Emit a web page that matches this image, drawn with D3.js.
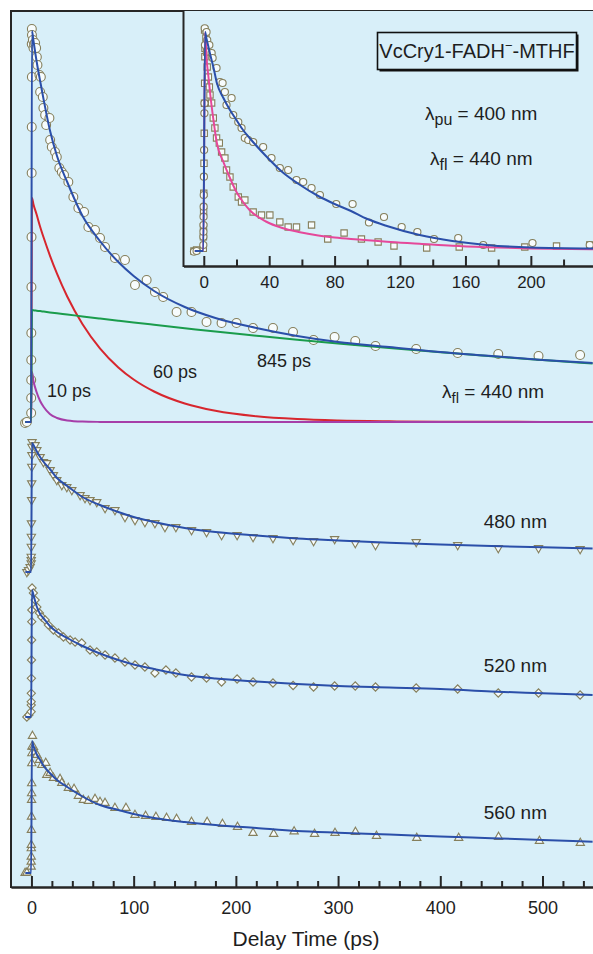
<!DOCTYPE html>
<html lang="en">
<head>
<meta charset="UTF-8">
<script src="https://cdn.jsdelivr.net/npm/d3@7"></script>
<style>
  body { margin: 0; background: #fff; }
  svg text { font-family: "Liberation Sans", Arial, sans-serif; fill: #1e1e1e; }
</style>
</head>
<body>
<svg></svg>
<script>
// ---------- data (t in ps, signal in a.u. above each trace baseline) ----------
var mainTicks = [0, 100, 200, 300, 400, 500];
var mainMinor = [20, 40, 60, 80, 120, 140, 160, 180, 220, 240, 260, 280, 320, 340, 360, 380, 420, 440, 460, 480, 520, 540];
var insetTicks = [0, 40, 80, 120, 160, 200];
var insetMinor = [20, 60, 100, 140, 180, 220];

var traceNames = ["440 nm", "480 nm", "520 nm", "560 nm"];
var traceOffsets = [465, 315, 170, 14];

var pts440 = [[-6.2,-1],[-4.5,0],[-0.28,9],[-0.25,24],[-0.21,42],[-0.17,62],[-0.12,89],[-0.02,135],[0.08,185],[0.21,249],[0.3,295],[0.41,345],
  [0.4,393],[0.5,387],[0.3,378],[1.4,382],[2.0,374],[2.6,378],[3.6,379],[4.6,374],[5.3,365],[5.9,357],[7.8,347],[8.5,330],[9.2,345],
  [11.1,325],[11.7,314],[13.4,307],[14.4,297],[17.6,304],[18.3,282],[19.9,275],[23.1,270],[24.8,265],[27.3,254],[29.7,250],[31.9,247],
  [36.1,240],[41,225],[45.9,214],[51.5,210],[55.7,195],[62.2,192],[67.1,184],[72,175],[81.7,164],[91.5,162],[101.3,137],[112.7,142],
  [120.8,130],[128.9,125],[142,110],[156.6,110],[171.3,100],[186,99],[200.6,99],[216.8,94],[236.3,94],[255.9,90],[276,82],[296.6,85],
  [316.8,81],[336.6,76],[376.4,73],[417,69],[456.7,68],[496.1,66],[536.8,67]];
var pts480 = [[-4.5,0],[-2.9,2],[-1.3,5],[-0.25,8.7],[-0.23,12],[-0.21,15.3],[-0.14,25.3],[-0.08,35.3],[0,48.7],[0.15,72],[0.25,88.7],
  [0.35,105.3],[0.43,117],[0.48,125.3],[0.6,130],[3.6,127],[5.3,122],[8.5,115],[11.7,110],[15,109],[18.3,102],[21.5,97],[24.8,92],
  [29.7,87],[34.6,85],[39.5,82],[47.6,77],[52.4,74],[57.3,72],[63.9,70],[72,64],[81.7,62],[91.5,55],[101.3,52],[111,50],[120.8,49],
  [130.6,45],[141.3,45],[156.6,42],[171.3,40],[186,37],[201.2,37],[216.8,35],[236.3,34],[256,32],[276,31],[296.6,33],[316.8,29],
  [336.6,27],[376.4,30],[417,27],[456.7,24],[496.1,24],[536.8,23]];
var pts520 = [[-4.5,0],[-2.5,2],[-0.27,5.3],[-0.22,12],[-0.2,15.3],[-0.15,23.7],[-0.06,38.7],[0.06,57],[0.19,77],[0.3,95.3],[0.37,107],
  [0.6,129],[1.9,124],[3.6,117],[5.3,110],[7.8,104],[10.1,100],[13.4,97],[16.6,92],[21.5,87],[26.4,84],[31.3,80],[37.8,77],[42.7,75],
  [49.2,74],[57.3,67],[63.9,65],[72,62],[81.7,59],[91.5,55],[101.3,52],[111,50],[120.8,44],[131.6,47],[141.3,44],[156.6,40],[171.3,39],
  [186,35],[201.2,38],[216.8,35],[236.3,34],[256,31.5],[276,30],[296.6,31],[316.8,31],[336.6,30],[376.4,29],[417,28],[456.7,24],
  [496.1,24],[536.8,22]];
var pts560 = [[-6.2,0],[-4.5,0.3],[-0.26,6.3],[-0.23,11.3],[-0.2,16.3],[-0.15,24.7],[-0.13,28],[-0.04,43],[0.04,56.3],[0.14,73],
  [0.18,79.7],[0.24,89.7],[0.36,109.7],[0.43,119.7],[0.47,126.3],[1.0,137],[2.0,126],[3.6,121],[5.3,118],[7.8,113],[10.1,108],[14,110],
  [15,98],[18.3,100],[21.5,95],[28,94],[29.7,90],[36.1,85],[41.7,84],[45.9,77],[50.8,73],[55.7,72],[62.2,74],[67.1,71],[72,70],
  [81.7,65],[92.5,65],[101.3,58],[111.7,57],[121.8,56],[132.2,55],[142,54],[156.6,51],[171.9,51],[186.9,49],[201.6,46],[216.8,40],
  [237,39],[257,41.5],[277,39],[297,40],[317,41],[337.6,37],[377,35],[418,35],[457,36],[497,32],[537,30]];

var fitT = [-6, -0.3, 0.5, 2, 5, 8.5, 12, 18, 25, 35, 50, 67, 85, 100, 120, 150, 180, 220, 260, 300, 350, 400, 450, 500, 549];
var fit440 = [0, 0, 391, 381, 361, 341, 322, 292, 266, 240, 206, 181, 160, 146, 131, 115, 104, 94, 86, 80, 75, 70, 66, 62, 59];
var fit480 = [0, 0, 129, 127, 121, 115, 110, 103, 94, 86, 75, 67, 60, 55, 50, 44, 40, 36.5, 33.5, 31.5, 29.3, 27.5, 26, 24.8, 23.5];
var fit520 = [0, 0, 127, 122, 111, 103, 98.5, 91, 85, 79, 71, 63.5, 57, 52.5, 48, 42, 38.5, 35.5, 33, 31, 29.5, 28, 25.5, 23.7, 22];
var fit560 = [0, 0, 132, 127, 119, 113, 107, 100, 93, 86, 76.5, 68, 63, 59, 55, 51, 48, 45, 42, 40.3, 38.5, 36.5, 34.8, 33, 31.3];
// decay components of the 440 nm trace
var comp10 = [0, 0, 50, 41, 30, 21, 15, 8, 4, 1.5, 0.4, 0.1, 0, 0, 0, 0, 0, 0, 0, 0, 0, 0, 0, 0, 0];
var comp60 = [0, 0, 224, 217.6, 207.7, 195.3, 184.2, 166.7, 148.3, 125.5, 97.8, 73.7, 54.6, 42.5, 30.5, 18.5, 11.2, 5.7, 2.9, 1.5, 0.7, 0.3, 0.2, 0.1, 0.05];
var comp845 = [0, 0, 112, 111.7, 111.3, 110.9, 110.4, 109.6, 108.7, 107.5, 105.6, 103.5, 101.3, 99.5, 97.2, 93.8, 90.4, 86.3, 82.3, 78.5, 74.0, 69.8, 65.7, 62.0, 58.5];

// inset
var insetCircles = [[-6,-0.7],[-4.4,0],[-0.27,6],[-0.23,14.3],[-0.2,19.3],[-0.17,26],[-0.13,34.3],[-0.08,44.3],[-0.02,56],[0.07,74.3],
  [0.21,101],[0.39,137.7],[0.44,147.7],[0.73,206],[0.6,222.7],[1.7,219],[2.1,211],[3.4,206],[4.8,198],[5.4,193],[7.8,183],[9.9,169],
  [11.5,168],[12.9,159],[13.9,146],[17,153],[18,136],[21.1,129],[23.1,123],[25.1,113],[27.2,111],[30.2,109],[36.3,104],[41.4,93],
  [46.5,83],[51.6,81],[56.7,71],[60.8,69],[65.9,63],[71,56],[81,47],[91,47],[101,28.5],[110.2,34],[121,24],[130.6,19],[140.8,12],
  [155.6,13],[170.9,6],[201,8],[236,6]];
var insetSquares = [[-6,0],[-4.4,1],[-0.29,2.7],[-0.23,14.3],[-0.18,24.3],[-0.1,39.3],[-0.01,57.7],[0.14,87.7],[0.29,117.7],[0.44,147.7],
  [0.54,167.7],[0.68,194.3],[0.72,202.7],[0.5,221],[1.3,213],[1.7,199],[2.1,184],[2.8,174],[3.4,164],[3.8,156],[4.8,148],[5.8,133],
  [6.8,123],[7.8,113],[9.5,108],[10.9,99],[12.9,93],[13.9,81],[16,74],[18,64],[21.1,54],[23.1,49],[25.1,51],[30.2,39],[35.3,36],
  [40.4,36],[46.5,29],[51.6,24],[56.7,24],[65.9,26],[75.8,12],[85.8,18],[96.4,12],[106.6,9],[116.3,5],[136.3,3],[156.2,4],[176,3],
  [196.3,4],[215.7,5],[236,6]];
var insetFitT = [-5.5, -0.3, 0.8, 1.7, 3, 4, 6, 8, 12, 16, 20, 24, 28, 38, 48, 58, 70, 80, 90, 100, 112, 132, 152, 173, 200, 238];
var insetFitBlue = [0, 0, 219, 212, 203, 196, 183, 168, 153, 141, 131, 121, 113, 95, 79, 67, 55, 47, 40, 32, 25, 16, 10, 6, 3.5, 2.5];
var insetFitPink = [0, 0, 219, 193, 172, 156, 130, 108, 89, 73, 59, 49, 41, 29.5, 23, 19, 15.5, 13.5, 12, 10.8, 9.3, 7.3, 5.2, 3.8, 2.6, 1.7];

// ---------- drawing ----------
var bg = "#d8eff9", blue = "#2b4fa9", ink = "#262626";
var mStroke = "#857f5c", mFill = "#f7fcfd";

var svg = d3.select("svg").attr("width", 593).attr("height", 954);

var x = d3.scaleLinear().domain([-20, 549.4]).range([11, 593]);
var y = d3.scaleLinear().domain([0, 876]).range([887, 11]);
var xi = d3.scaleLinear().domain([-12.4, 238]).range([183.5, 593]);
var yi = d3.scaleLinear().domain([-15, 240]).range([266, 11]);

var defs = svg.append("defs");
defs.append("clipPath").attr("id", "mainClip").append("rect")
  .attr("x", 11).attr("y", 11).attr("width", 582).attr("height", 876);
defs.append("clipPath").attr("id", "insetClip").append("rect")
  .attr("x", 183.5).attr("y", 11).attr("width", 409.5).attr("height", 255);

svg.append("rect").attr("x", 11).attr("y", 11).attr("width", 582).attr("height", 876).attr("fill", bg);

var main = svg.append("g").attr("clip-path", "url(#mainClip)");

function markers(g, pts, xs, ys, off, type, size, rot) {
  var sym = d3.symbol().type(type).size(size);
  g.append("g").selectAll("path").data(pts).enter().append("path")
    .attr("d", sym)
    .attr("transform", function(d) { return "translate(" + xs(d[0]) + "," + ys(d[1] + off) + ") rotate(" + rot + ")"; })
    .attr("fill", mFill).attr("stroke", mStroke).attr("stroke-width", 1.1);
}
function curve(g, ts, vals, xs, ys, off, color) {
  var line = d3.line().x(function(d) { return xs(d[0]); }).y(function(d) { return ys(d[1] + off); })
    .curve(d3.curveMonotoneX);
  g.append("path").datum(ts.map(function(t, i) { return [t, vals[i]]; }))
    .attr("d", line).attr("fill", "none").attr("stroke", color).attr("stroke-width", 2);
}

markers(main, pts440, x, y, traceOffsets[0], d3.symbolCircle, 62, 0);
markers(main, pts480, x, y, traceOffsets[1], d3.symbolTriangle, 30, 180);
markers(main, pts520, x, y, traceOffsets[2], d3.symbolSquare, 34, 45);
markers(main, pts560, x, y, traceOffsets[3], d3.symbolTriangle, 30, 0);

curve(main, fitT, comp60, x, y, traceOffsets[0], "#d7262e");
curve(main, fitT, comp10, x, y, traceOffsets[0], "#a63ea9");
curve(main, fitT, comp845, x, y, traceOffsets[0], "#1a9c4c");
curve(main, fitT, fit440, x, y, traceOffsets[0], blue);
curve(main, fitT, fit480, x, y, traceOffsets[1], blue);
curve(main, fitT, fit520, x, y, traceOffsets[2], blue);
curve(main, fitT, fit560, x, y, traceOffsets[3], blue);

// labels
function label(g, px, py, parts, size, anchor) {
  var t = g.append("text").attr("x", px).attr("y", py).attr("font-size", size)
    .attr("text-anchor", anchor || "start");
  parts.forEach(function(p) {
    var s = t.append("tspan").text(p[0]);
    if (p[1]) s.attr("dy", p[1]);
    if (p[2]) s.attr("font-size", p[2]);
  });
}
label(svg, 47, 397, [["10 ps"]], 18);
label(svg, 153, 378, [["60 ps"]], 18);
label(svg, 257, 367, [["845 ps"]], 18);
label(svg, 442, 398, [["λ"], ["fl", 5, 15], [" = 440 nm", -5]], 19);
label(svg, 547, 528, [[traceNames[1]]], 19, "end");
label(svg, 547, 672, [[traceNames[2]]], 19, "end");
label(svg, 547, 819, [[traceNames[3]]], 19, "end");

// main axis
var axMajor = svg.append("g").attr("transform", "translate(0,887)")
  .call(d3.axisBottom(x).tickValues(mainTicks).tickSizeInner(-11).tickSizeOuter(0).tickPadding(14));
var axMinor = svg.append("g").attr("transform", "translate(0,887)")
  .call(d3.axisBottom(x).tickValues(mainMinor).tickSizeInner(-6).tickSizeOuter(0).tickFormat(""));
[axMajor, axMinor].forEach(function(a) {
  a.selectAll("path,line").attr("stroke", ink).attr("stroke-width", 2);
  a.selectAll("text").attr("font-size", 18).attr("font-family", "Liberation Sans, Arial, sans-serif").attr("fill", "#1e1e1e");
});
svg.append("line").attr("x1", 11).attr("x2", 11).attr("y1", 10).attr("y2", 888).attr("stroke", ink).attr("stroke-width", 2);
svg.append("line").attr("x1", 10).attr("x2", 593).attr("y1", 11).attr("y2", 11).attr("stroke", ink).attr("stroke-width", 2);
svg.append("text").attr("x", 306).attr("y", 946).attr("text-anchor", "middle").attr("font-size", 21).text("Delay Time (ps)");

// ---------- inset ----------
svg.append("rect").attr("x", 183.5).attr("y", 11).attr("width", 409.5).attr("height", 255).attr("fill", bg);
var ins = svg.append("g").attr("clip-path", "url(#insetClip)");
markers(ins, insetSquares, xi, yi, 0, d3.symbolSquare, 40, 0);
markers(ins, insetCircles, xi, yi, 0, d3.symbolCircle, 40, 0);
curve(ins, insetFitT, insetFitPink, xi, yi, 0, "#e5489a");
curve(ins, insetFitT, insetFitBlue, xi, yi, 0, blue);

var iaMajor = svg.append("g").attr("transform", "translate(0,266)")
  .call(d3.axisBottom(xi).tickValues(insetTicks).tickSizeInner(-10).tickSizeOuter(0).tickPadding(10));
var iaMinor = svg.append("g").attr("transform", "translate(0,266)")
  .call(d3.axisBottom(xi).tickValues(insetMinor).tickSizeInner(-6.5).tickSizeOuter(0).tickFormat(""));
[iaMajor, iaMinor].forEach(function(a) {
  a.selectAll("path,line").attr("stroke", ink).attr("stroke-width", 2);
  a.selectAll("text").attr("font-size", 17).attr("font-family", "Liberation Sans, Arial, sans-serif").attr("fill", "#1e1e1e");
});
svg.append("line").attr("x1", 183.5).attr("x2", 183.5).attr("y1", 11).attr("y2", 267).attr("stroke", ink).attr("stroke-width", 2);

// sample box
svg.append("rect").attr("x", 379.5).attr("y", 34.5).attr("width", 199).attr("height", 37).attr("fill", "#111");
svg.append("rect").attr("x", 377.5).attr("y", 32.5).attr("width", 199).attr("height", 37)
  .attr("fill", bg).attr("stroke", "#111").attr("stroke-width", 1.6);
label(svg, 477, 58, [["VcCry1-FADH"], ["−", -8, 13], ["-MTHF", 8]], 20, "middle");

label(svg, 425, 120, [["λ"], ["pu", 5, 16], [" = 400 nm", -5]], 19);
label(svg, 430, 165, [["λ"], ["fl", 5, 16], [" = 440 nm", -5]], 19);
</script>
</body>
</html>
